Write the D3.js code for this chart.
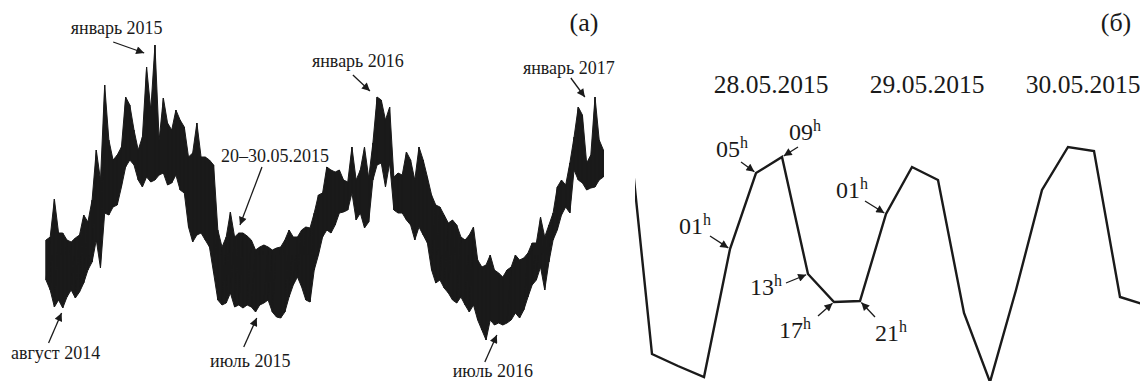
<!DOCTYPE html>
<html>
<head>
<meta charset="utf-8">
<script src="https://cdn.jsdelivr.net/npm/d3@7"></script>
<style>
  html, body { margin: 0; padding: 0; background: #fff; }
  svg { display: block; }
  text { font-family: "Liberation Serif", "DejaVu Serif", serif; fill: #1a1a1a; }
</style>
</head>
<body>
<svg id="chart" width="1140" height="381"></svg>
<script>
// ---- Panel (а): weekly envelope of the series, relative units ----
const seriesStart = new Date(2014, 6, 15);
const seriesEnd = new Date(2017, 1, 1);
const weeklyHigh = [
  120,123,161,127,127,120,118,122,125,145,138,160,210,180,275,220,200,205,213,263,
  255,230,210,223,293,250,315,220,262,237,230,250,240,233,203,207,237,203,203,200,
  195,130,113,123,148,123,127,127,124,120,110,113,115,113,110,112,113,120,130,123,
  123,130,133,132,147,165,167,193,190,188,190,180,178,213,180,190,213,182,217,263,
  260,240,253,183,187,185,208,200,180,213,200,183,165,155,153,145,137,140,135,123,
  120,125,133,100,93,95,105,90,87,83,90,93,105,100,102,107,117,117,143,123,
  135,147,173,180,175,197,223,253,245,197,205,263,220,210
];
const weeklyLow = [
  80,70,53,60,52,63,70,62,68,77,90,98,120,92,147,145,153,155,173,193,
  200,195,180,173,183,178,180,185,187,175,177,185,170,167,133,118,125,127,120,113,
  87,60,55,57,67,53,55,52,55,53,48,55,57,60,48,43,42,48,63,75,
  83,73,60,58,90,105,123,130,127,135,147,148,150,167,140,147,132,138,180,195,
  197,173,197,150,147,147,140,135,120,133,125,117,90,77,80,72,67,60,57,63,
  55,48,55,40,30,20,40,35,37,35,37,40,47,42,50,63,75,80,93,70,
  98,120,130,145,153,147,190,180,177,170,172,173,180,183
];

// Annotations of panel (а): arrow tip (date, value), tail and label offsets
const seasonLabels = ["январь 2015", "январь 2016", "январь 2017", "20–30.05.2015",
                      "август 2014", "июль 2015", "июль 2016"];
const seasonDates = [new Date(2014, 11, 26), new Date(2016, 0, 7), new Date(2016, 11, 31),
                     new Date(2015, 5, 4), new Date(2014, 7, 10), new Date(2015, 6, 2),
                     new Date(2016, 7, 6)];
const seasonValues = [307, 269, 263, 135, 47, 42, 25];

// ---- Panel (б): 4-hourly values, 27.05.2015 09h – 30.05.2015 17h ----
const hourlyStart = new Date(2015, 4, 27, 9);
const hourlyValues = [278, 26, 14, 3, 131, 207, 223, 106, 78, 79, 166,
                      213, 200, 67, -2, 90, 190, 233, 229, 83, 75];
const dayLabels = ["28.05.2015", "29.05.2015", "30.05.2015"];
const hourMarks = ["01", "05", "09", "13", "17", "21", "01"];
const hourMarkIndex = [4, 5, 6, 7, 8, 9, 10];

const svg = d3.select("#chart");
const ink = "#1a1a1a";

// arrowhead marker
svg.append("defs").append("marker")
  .attr("id", "head")
  .attr("markerUnits", "userSpaceOnUse")
  .attr("viewBox", "0 0 10 10")
  .attr("refX", 10).attr("refY", 5)
  .attr("markerWidth", 10).attr("markerHeight", 8)
  .attr("orient", "auto")
  .append("path").attr("d", "M0,0 L10,5 L0,10 Z").attr("fill", ink);

// ---------- Panel (а) ----------
const xA = d3.scaleTime().domain([seriesStart, seriesEnd]).range([46, 604]);
const yA = d3.scaleLinear().domain([0, 320]).range([360, 40]);

const weeks = weeklyHigh.map((h, i) => ({
  date: d3.timeDay.offset(seriesStart, 7 * i), hi: h, lo: weeklyLow[i]
}));

svg.append("path")
  .datum(weeks)
  .attr("fill", ink)
  .attr("stroke", ink)
  .attr("stroke-width", 1)
  .attr("stroke-linejoin", "miter")
  .attr("d", d3.area().x(d => xA(d.date)).y0(d => yA(d.lo)).y1(d => yA(d.hi)));

// trace between weekly extremes
const zig = [];
weeks.forEach(d => { zig.push([xA(d.date), yA(d.hi)]); zig.push([xA(d.date), yA(d.lo)]); });
svg.append("path")
  .attr("fill", "none").attr("stroke", ink).attr("stroke-width", 1)
  .attr("d", d3.line()(zig));

const seasonOffsets = [
  { tail: [-31, -11], label: [-27.5, -19] },
  { tail: [-17, -16], label: [-12, -24] },
  { tail: [-14, -19], label: [-16, -23] },
  { tail: [22, -58],  label: [35, -63] },
  { tail: [-13, 30],  label: [-6, 46] },
  { tail: [-13, 29],  label: [-6.5, 49] },
  { tail: [-12, 27],  label: [-4, 42] }
];

const gA = svg.append("g");
seasonLabels.forEach((t, i) => {
  const tx = xA(seasonDates[i]), ty = yA(seasonValues[i]);
  const o = seasonOffsets[i];
  gA.append("line")
    .attr("x1", tx + o.tail[0]).attr("y1", ty + o.tail[1])
    .attr("x2", tx).attr("y2", ty)
    .attr("stroke", ink).attr("stroke-width", 1.3)
    .attr("marker-end", "url(#head)");
  gA.append("text")
    .attr("x", tx + o.label[0]).attr("y", ty + o.label[1])
    .attr("text-anchor", "middle")
    .attr("font-size", 18)
    .text(t);
});

svg.append("text").attr("x", 584).attr("y", 31)
  .attr("text-anchor", "middle").attr("font-size", 26).text("(а)");

// ---------- Panel (б) ----------
const hourlyEnd = d3.timeHour.offset(hourlyStart, 4 * (hourlyValues.length - 1));
const xB = d3.scaleTime().domain([hourlyStart, hourlyEnd]).range([626, 1146]);
const yB = d3.scaleLinear().domain([0, 250]).range([380, 130]);

const hours = hourlyValues.map((v, i) => ({ date: d3.timeHour.offset(hourlyStart, 4 * i), v }));

svg.append("clipPath").attr("id", "clipB")
  .append("rect").attr("x", 635).attr("y", 0).attr("width", 505).attr("height", 381);

svg.append("path")
  .datum(hours)
  .attr("clip-path", "url(#clipB)")
  .attr("fill", "none")
  .attr("stroke", ink)
  .attr("stroke-width", 2.4)
  .attr("stroke-linejoin", "miter")
  .attr("d", d3.line().x(d => xB(d.date)).y(d => yB(d.v)));

// day captions, centred on the morning of each day
dayLabels.forEach((t, i) => {
  const d = new Date(2015, 4, 28 + i, 7, 20);
  svg.append("text").attr("x", xB(d)).attr("y", 93)
    .attr("text-anchor", "middle").attr("font-size", 25.5).text(t);
});

// hour marks: tail offset and label offset from the marked point
const hourOffsets = [
  { tail: [-20, -13], label: [-51, -15] },
  { tail: [-15, -11], label: [-40, -16] },
  { tail: [16, -10],  label: [7, -17] },
  { tail: [-22, 9],   label: [-58, 21] },
  { tail: [-16, 14],  label: [-55, 36] },
  { tail: [15, 16],   label: [15, 40] },
  { tail: [-21, -13], label: [-50, -16] }
];

const gB = svg.append("g");
hourMarks.forEach((h, k) => {
  const p = hours[hourMarkIndex[k]];
  const px = xB(p.date), py = yB(p.v);
  const o = hourOffsets[k];
  const len = Math.hypot(o.tail[0], o.tail[1]);
  const tipX = px + o.tail[0] / len * 2, tipY = py + o.tail[1] / len * 2;
  gB.append("line")
    .attr("x1", px + o.tail[0]).attr("y1", py + o.tail[1])
    .attr("x2", tipX).attr("y2", tipY)
    .attr("stroke", ink).attr("stroke-width", 1.3)
    .attr("marker-end", "url(#head)");
  const t = gB.append("text")
    .attr("x", px + o.label[0]).attr("y", py + o.label[1])
    .attr("font-size", 24);
  t.append("tspan").text(h);
  t.append("tspan").attr("font-size", 16).attr("dy", -9).text("h");
});

svg.append("text").attr("x", 1116).attr("y", 31)
  .attr("text-anchor", "middle").attr("font-size", 26).text("(б)");
</script>
</body>
</html>
